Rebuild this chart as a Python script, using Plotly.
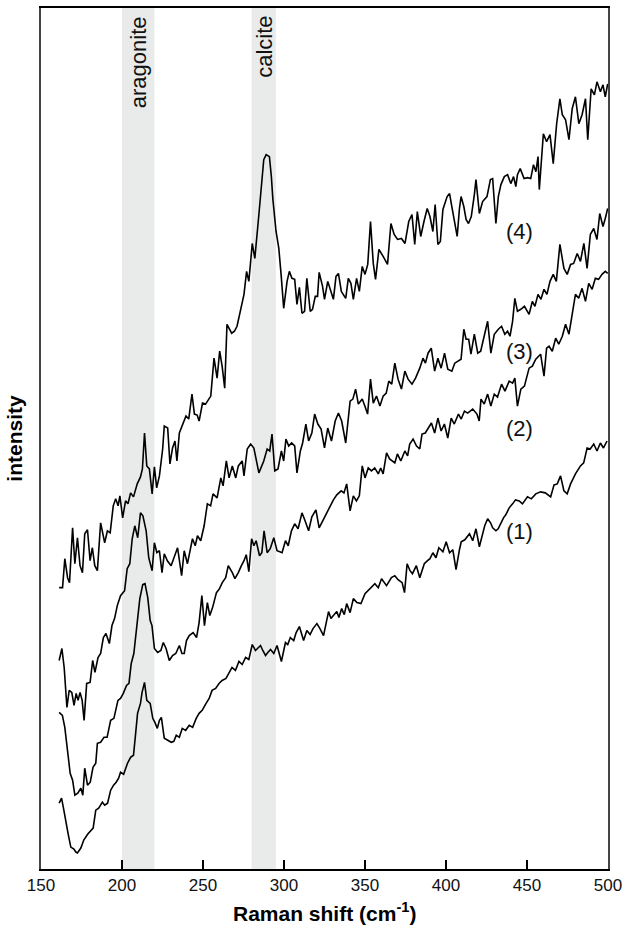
import plotly.graph_objects as go

# ---------------- data (Raman shift in cm-1, intensity in arbitrary units) ----------------
x4 = [161.2,163.3,164.7,166.4,167.6,169.5,170.9,172.5,174.1,175.6,177.0,178.7,180.3,181.7,183.2,184.8,186.8,189.3,191.0,192.7,
      194.6,196.1,197.6,198.7,200.4,202.2,203.7,205.3,207.1,209.4,211.4,212.6,213.9,215.3,216.9,218.6,220.0,221.4,223.1,225.1,
      226.1,228.2,229.6,231.2,232.7,233.9,235.4,237.4,239.5,241.2,243.2,244.7,246.4,247.6,249.7,251.6,254.8,256.8,258.7,260.3,
      261.8,263.4,264.8,267.7,269.4,271.0,273.2,275.3,276.9,278.3,280.4,282.0,284.5,286.0,287.5,289.0,291.0,292.2,293.1,295.1,
      296.8,298.3,299.8,301.9,303.3,304.9,306.6,308.0,309.5,311.1,312.7,314.1,316.2,317.6,319.3,320.7,321.7,323.8,325.0,327.0,
      328.7,330.5,332.1,333.6,335.4,338.1,339.7,341.3,342.8,344.8,346.5,348.3,350.0,351.7,353.4,355.1,356.5,358.6,361.2,363.9,
      366.0,368.0,370.1,372.5,374.7,377.0,379.0,380.7,382.3,384.4,386.4,388.4,390.1,391.9,393.3,395.0,396.5,398.1,400.7,402.2,
      403.6,405.3,406.9,408.3,409.3,411.0,412.4,413.9,415.6,417.5,418.5,420.6,422.6,425.3,427.4,428.8,430.8,432.3,433.9,436.0,
      438.0,440.0,441.7,443.1,444.1,445.8,448.2,450.3,452.3,454.0,455.5,456.8,457.6,460.1,462.1,464.2,466.2,468.3,470.3,471.8,
      473.8,475.9,477.9,479.9,482.0,484.0,486.1,487.5,489.6,491.6,493.2,495.3,496.9,498.3,499.8]
y4 = [282,282,311,292,287,342,306,332,304,297,336,340,309,322,304,299,347,327,339,337,
      364,371,364,374,352,369,366,377,373,386,393,401,437,404,401,376,403,382,394,421,
      444,442,406,422,429,409,437,446,454,451,476,456,455,449,467,466,474,512,492,519,
      504,482,546,537,539,544,562,576,599,589,627,612,656,684,711,716,714,694,672,639,
      622,594,562,589,599,592,591,566,583,557,559,592,559,561,574,574,598,584,571,589,
      579,571,594,597,579,572,592,587,571,592,579,604,596,606,649,607,591,621,614,606,
      647,636,631,632,627,649,656,626,659,634,649,662,654,639,666,626,629,661,674,677,
      664,649,634,662,674,664,651,647,654,676,691,657,669,674,691,692,647,674,686,694,
      696,687,694,684,696,702,692,693,692,706,699,714,681,737,729,736,707,747,772,756,
      751,731,762,774,747,756,772,731,782,776,789,779,786,774,787]

x3 = [161.2,162.9,164.3,166.0,167.4,169.0,170.4,171.7,172.9,174.1,175.4,176.6,178.2,180.3,181.9,183.3,185.2,186.8,188.5,190.1,
      192.2,193.8,195.4,197.1,199.1,201.6,203.2,204.8,206.3,207.9,209.7,211.4,212.9,214.9,216.5,218.6,220.0,221.5,223.1,224.7,
      226.1,228.0,230.3,232.3,234.3,236.8,238.4,240.4,243.5,245.2,246.6,248.6,250.7,252.7,254.7,256.2,258.7,261.0,262.4,264.4,
      266.1,268.1,270.2,271.8,274.2,275.3,277.3,279.4,281.4,284.5,287.5,289.6,291.2,292.6,294.3,296.3,298.4,299.8,301.2,302.9,
      304.7,306.6,308.0,310.1,311.5,313.5,315.2,317.2,318.9,320.9,322.9,325.0,327.0,329.3,331.6,333.6,335.6,338.1,340.8,342.5,
      344.2,345.9,348.3,349.9,351.6,353.4,355.1,357.1,359.2,361.2,363.1,364.7,366.5,368.4,370.4,372.5,374.6,376.6,379.0,381.2,
      383.8,385.8,387.3,388.9,390.9,393.0,395.0,397.0,399.1,401.1,403.6,405.4,407.7,409.3,411.0,412.4,414.0,415.4,417.5,419.6,
      421.4,423.7,425.7,427.7,429.8,432.3,434.3,436.3,438.0,439.5,441.1,442.5,444.1,446.2,448.4,451.3,453.3,454.9,456.8,458.6,
      460.5,462.3,464.2,466.2,468.1,470.3,472.8,474.8,476.9,478.8,481.0,483.0,485.1,487.1,489.1,491.2,493.2,494.9,496.9,498.3,
      499.8]
y3 = [209,221,202,162,179,177,164,176,169,177,169,149,186,187,209,197,212,216,232,236,
      226,244,251,264,274,279,301,306,331,344,332,357,354,339,312,299,327,317,319,297,
      316,309,304,313,322,294,319,306,331,324,334,329,344,366,364,376,372,392,384,409,
      392,404,392,404,409,394,421,426,422,397,409,421,419,436,399,401,419,409,431,424,
      427,424,397,419,427,446,429,437,456,446,441,422,442,429,449,457,449,427,469,471,
      481,466,471,464,456,491,467,474,464,474,477,489,486,507,491,481,499,491,486,492,
      502,512,507,517,522,499,512,502,517,501,499,507,509,511,541,531,531,516,536,517,
      519,536,549,517,536,541,544,536,539,534,549,572,559,561,564,556,569,564,576,571,
      581,576,589,596,589,626,602,596,606,607,617,609,627,602,636,642,631,657,644,652,
      662]

x2 = [161.2,163.2,164.7,166.4,168.0,169.5,170.9,172.7,174.6,175.8,177.0,178.7,180.4,182.1,183.8,184.8,186.8,188.9,190.8,193.0,
      195.0,197.5,199.1,200.8,202.8,204.3,205.7,207.3,209.4,211.0,212.8,214.2,215.9,217.4,218.5,220.0,222.0,224.0,225.5,227.2,
      229.2,231.2,233.2,235.4,237.0,238.4,239.8,241.5,243.9,246.0,247.6,249.3,250.9,252.7,254.2,255.9,258.3,260.2,261.9,264.0,
      265.6,268.1,269.7,271.8,273.7,275.3,276.7,278.3,280.0,281.4,282.8,284.9,286.3,287.7,289.6,291.5,293.7,295.7,297.4,298.8,
      300.9,302.6,304.6,306.6,308.7,311.1,313.0,315.2,317.2,319.7,321.7,323.8,326.4,328.5,330.5,332.6,335.3,337.0,338.7,340.8,
      342.8,344.7,346.5,348.3,350.0,352.0,354.0,356.0,358.2,359.7,361.2,363.3,365.2,368.4,370.0,372.1,374.6,376.3,377.6,379.7,
      381.8,383.8,385.2,387.2,388.9,391.0,393.0,395.0,397.0,399.0,401.1,403.2,405.1,407.7,409.4,411.4,413.4,416.5,419.1,420.5,
      421.6,423.6,425.7,427.7,429.8,431.8,434.3,436.4,439.0,441.1,442.5,444.1,446.2,448.4,451.3,453.3,455.4,457.0,458.4,460.5,
      462.1,463.6,465.6,467.7,469.6,471.8,473.8,475.9,477.9,479.9,481.9,484.0,486.1,488.1,490.2,492.2,494.2,496.3,498.3,499.8]
y2 = [157,154,142,116,96,89,74,76,81,74,101,84,87,102,106,126,127,132,132,149,
      151,169,171,176,184,186,206,216,246,271,285,286,272,249,244,221,217,219,227,221,
      209,214,216,224,216,216,229,234,237,232,247,274,244,267,254,262,277,281,287,292,
      304,297,291,297,304,309,315,298,331,324,329,314,317,339,317,321,332,319,318,317,
      329,324,339,346,341,357,349,339,353,360,342,349,358,364,370,375,379,377,386,359,
      374,369,374,404,392,402,399,402,396,402,396,417,411,407,416,409,419,414,426,431,
      424,421,436,437,442,447,437,452,439,446,432,452,446,456,451,459,457,461,456,449,
      471,466,476,464,476,473,486,479,489,487,492,464,481,484,502,504,511,514,516,494,
      522,524,519,532,526,534,546,536,556,576,572,582,569,587,581,592,591,596,599,597]

x1 = [161.2,162.7,164.1,165.4,166.9,168.4,170.3,171.5,172.5,174.6,176.4,178.9,180.7,182.2,183.8,185.6,187.9,189.3,191.1,193.0,
      194.8,196.4,197.9,199.1,201.0,203.4,205.3,207.1,208.3,209.6,211.4,212.4,213.9,215.3,217.4,219.0,220.3,221.8,223.1,224.3,
      226.1,228.3,230.4,232.0,233.5,235.4,237.2,239.3,241.5,243.6,245.8,247.6,249.5,251.9,253.8,255.6,257.8,259.9,261.8,264.2,
      266.1,267.9,270.0,272.2,274.2,276.3,278.3,280.4,282.4,283.9,285.5,286.9,288.6,290.0,291.7,293.7,295.7,298.4,300.9,302.3,
      303.9,306.0,307.5,309.5,312.1,314.1,316.1,317.9,320.3,322.2,324.4,327.5,329.0,330.5,332.6,333.9,335.6,337.2,338.7,340.8,
      342.8,345.0,347.5,350.0,352.0,354.0,356.1,358.2,360.2,363.3,366.3,368.4,370.4,372.9,374.4,376.0,377.8,379.3,381.7,383.8,
      386.6,388.6,390.1,391.9,393.8,395.6,398.1,400.1,402.2,404.2,406.2,408.3,409.4,411.6,414.5,416.5,418.5,420.6,421.6,423.9,
      425.7,427.5,428.8,430.8,432.2,433.9,435.5,436.9,439.0,441.1,442.9,445.2,447.2,450.3,452.7,455.4,458.4,461.3,464.6,466.7,
      468.7,470.7,472.8,474.8,476.9,479.9,483.0,485.0,487.1,489.0,491.2,493.2,495.3,497.2,499.4]
y1 = [66,71,59,46,34,22,20,17,16,21,29,35,38,41,59,61,67,64,66,79,
      84,87,91,97,95,106,112,114,134,156,166,177,187,169,166,151,147,141,149,152,
      131,129,127,128,134,132,141,139,144,142,151,156,159,166,171,179,181,186,189,191,
      196,202,199,208,205,212,210,225,219,221,224,219,214,217,220,216,224,208,227,225,
      232,229,237,243,229,239,235,241,246,241,234,258,251,254,258,252,261,255,266,257,
      271,267,266,276,279,283,286,282,291,284,292,294,290,287,277,306,299,296,304,292,
      306,309,311,317,312,322,318,328,317,320,300,320,328,330,336,329,341,323,329,344,
      351,347,342,339,341,347,352,355,362,366,370,369,366,373,371,376,378,377,373,385,
      386,394,379,376,386,396,404,407,422,421,426,419,427,422,429]

series = [(x1, y1), (x2, y2), (x3, y3), (x4, y4)]

bands = [(200, 220, "aragonite"), (280, 295, "calcite")]
curve_labels = ["(1)", "(2)", "(3)", "(4)"]
label_x = [445.5, 445.5, 445.5, 445.5]
label_y = [338, 442, 519, 639]

x_ticks = [150, 200, 250, 300, 350, 400, 450, 500]

# ---------------- figure ----------------
FONT = "Liberation Sans, Arial, sans-serif"
fig = go.Figure()

for xs, ys in series:
    fig.add_trace(go.Scatter(x=xs, y=ys, mode="lines",
                             line=dict(color="black", width=1.6),
                             showlegend=False, hoverinfo="skip"))

for x0, x1b, name in bands:
    fig.add_shape(type="rect", xref="x", yref="paper", x0=x0, x1=x1b, y0=0, y1=1,
                  fillcolor="#e9ebea", line=dict(width=0), layer="below")
    fig.add_annotation(x=(x0 + x1b) / 2, xref="x", y=1, yref="paper", yshift=-6,
                       text=name, textangle=-90, showarrow=False,
                       xanchor="center", yanchor="top",
                       font=dict(family=FONT, size=22, color="#111"))

for t, lx, ly in zip(curve_labels, label_x, label_y):
    fig.add_annotation(x=lx, y=ly, text=t, showarrow=False,
                       font=dict(family=FONT, size=22, color="#111"))

fig.add_annotation(x=-27 / 570, xref="paper", y=0.5, yref="paper", text="<b>intensity</b>",
                   textangle=-90, showarrow=False, xanchor="center", yanchor="middle",
                   font=dict(family=FONT, size=21, color="black"))
fig.add_annotation(x=0.5, xref="paper", y=0, yref="paper", yshift=-43,
                   text="<b>Raman shift (cm<sup>-1</sup>)</b>", showarrow=False,
                   xanchor="center", yanchor="middle",
                   font=dict(family=FONT, size=21, color="black"))

fig.update_layout(
    width=628, height=928,
    margin=dict(l=41, r=17, t=6, b=59),
    paper_bgcolor="white", plot_bgcolor="white",
    xaxis=dict(range=[150, 500], tickvals=x_ticks, ticks="inside", ticklen=9,
               tickwidth=1.5, tickcolor="black", showgrid=False, zeroline=False,
               showline=True, mirror=True, linecolor="black", linewidth=1.5,
               tickfont=dict(family=FONT, size=17, color="#111")),
    yaxis=dict(range=[0, 863], showticklabels=False, ticks="", showgrid=False,
               zeroline=False, showline=True, mirror=True, linecolor="#444",
               linewidth=1.5),
)

fig.write_html("out.html", config={"displayModeBar": False},
               post_script="document.body.style.margin='0';document.body.style.overflow='hidden';")
